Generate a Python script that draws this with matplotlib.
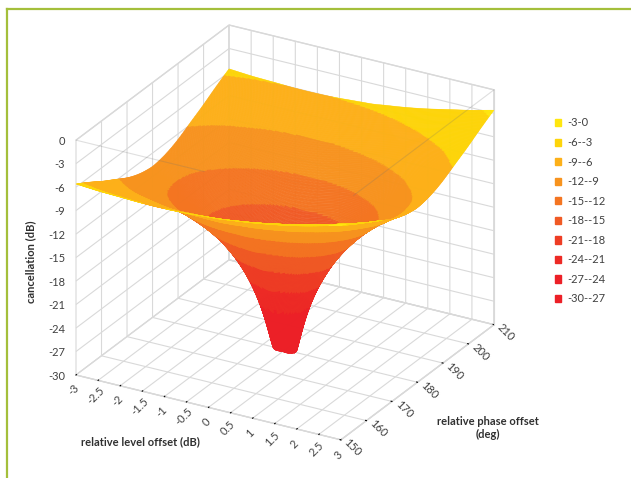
from matplotlib import pyplot as plt
from matplotlib.lines import Line2D
from matplotlib.patches import Patch
from mpl_toolkits.mplot3d import proj3d
import numpy as np

level_offset = [-3, -2.5, -2, -1.5, -1, -0.5, -0.25, 0, 0.25, 0.5, 1, 1.5, 2, 2.5, 3]
phase_offset = [150, 155, 160, 165, 170, 175, 177.5, 180, 182.5, 185, 190, 195, 200, 205, 210]

# one row per level offset, one column per phase offset
cancellation = [
    [-5.6, -6.6, -7.7, -8.7, -9.7, -10.4, -10.6, -10.7, -10.6, -10.4, -9.7, -8.7, -7.7, -6.6, -5.6],
    [-5.8, -6.9, -8.2, -9.5, -10.7, -11.7, -11.9, -12.0, -11.9, -11.7, -10.7, -9.5, -8.2, -6.9, -5.8],
    [-5.9, -7.2, -8.6, -10.2, -11.8, -13.2, -13.6, -13.7, -13.6, -13.2, -11.8, -10.2, -8.6, -7.2, -5.9],
    [-6.0, -7.4, -9.0, -10.8, -13.0, -15.0, -15.7, -16.0, -15.7, -15.0, -13.0, -10.8, -9.0, -7.4, -6.0],
    [-6.0, -7.5, -9.2, -11.4, -14.1, -17.3, -18.7, -19.3, -18.7, -17.3, -14.1, -11.4, -9.2, -7.5, -6.0],
    [-5.9, -7.4, -9.3, -11.7, -15.0, -19.9, -23.1, -25.1, -23.1, -19.9, -15.0, -11.7, -9.3, -7.4, -5.9],
    [-5.8, -7.4, -9.3, -11.7, -15.2, -20.9, -25.8, -30.0, -25.8, -20.9, -15.2, -11.7, -9.3, -7.4, -5.8],
    [-5.7, -7.3, -9.2, -11.7, -15.2, -21.2, -27.2, -30.0, -27.2, -21.2, -15.2, -11.7, -9.2, -7.3, -5.7],
    [-5.6, -7.1, -9.0, -11.5, -14.9, -20.6, -25.5, -30.0, -25.5, -20.6, -14.9, -11.5, -9.0, -7.1, -5.6],
    [-5.4, -7.0, -8.8, -11.2, -14.5, -19.4, -22.6, -24.5, -22.6, -19.4, -14.5, -11.2, -8.8, -7.0, -5.4],
    [-5.0, -6.5, -8.2, -10.4, -13.1, -16.3, -17.7, -18.3, -17.7, -16.3, -13.1, -10.4, -8.2, -6.5, -5.0],
    [-4.5, -5.9, -7.5, -9.3, -11.5, -13.5, -14.2, -14.5, -14.2, -13.5, -11.5, -9.3, -7.5, -5.9, -4.5],
    [-3.9, -5.2, -6.6, -8.2, -9.8, -11.2, -11.6, -11.7, -11.6, -11.2, -9.8, -8.2, -6.6, -5.2, -3.9],
    [-3.3, -4.4, -5.7, -6.9, -8.2, -9.2, -9.4, -9.5, -9.4, -9.2, -8.2, -6.9, -5.7, -4.4, -3.3],
    [-2.6, -3.6, -4.7, -5.7, -6.7, -7.4, -7.6, -7.7, -7.6, -7.4, -6.7, -5.7, -4.7, -3.6, -2.6],
]

level_ticks = [-3, -2.5, -2, -1.5, -1, -0.5, 0, 0.5, 1, 1.5, 2, 2.5, 3]
level_labels = ["-3", "-2.5", "-2", "-1.5", "-1", "-0.5", "0", "0.5", "1", "1.5", "2", "2.5", "3"]
phase_ticks = [150, 160, 170, 180, 190, 200, 210]
db_ticks = [0, -3, -6, -9, -12, -15, -18, -21, -24, -27, -30]

band_edges = [-30, -27, -24, -21, -18, -15, -12, -9, -6, -3, 0]
band_labels = ["-30--27", "-27--24", "-24--21", "-21--18", "-18--15",
               "-15--12", "-12--9", "-9--6", "-6--3", "-3-0"]
band_colors = ["#ec2027", "#ec2027", "#ed2a25", "#ee3d24", "#f05a24",
               "#f47521", "#f7931e", "#fdb019", "#fdd40a", "#ffe60f"]

WIDTH, HEIGHT = 631, 478
GRID = "#d9d9d9"
TEXT = "#404040"
plt.rcParams['font.family'] = ['Lato', 'DejaVu Sans']
plt.rcParams['grid.color'] = GRID
plt.rcParams['grid.linewidth'] = 0.8


def hermite(values, x, x_new):
    # cubic hermite along the first axis, x may be unevenly spaced
    slopes = np.gradient(values, x, axis=0)
    i = np.clip(np.searchsorted(x, x_new) - 1, 0, len(x) - 2)
    h = x[i + 1] - x[i]
    t = (x_new - x[i]) / h
    t = t.reshape((-1,) + (1,) * (values.ndim - 1))
    h = h.reshape(t.shape)
    return ((2*t**3 - 3*t**2 + 1) * values[i] + (t**3 - 2*t**2 + t) * h * slopes[i]
            + (-2*t**3 + 3*t**2) * values[i + 1] + (t**3 - t**2) * h * slopes[i + 1])


def to_px(x, y, z):
    xs, ys, _ = proj3d.proj_transform(x, y, z, ax.get_proj())
    return ax.transData.transform((xs, ys))


def tick_label(x, y, z, s, dx, dy, **kw):
    # Text3D drops the rotation, so tick labels go on the figure next to the projected point
    px, py = to_px(x, y, z)
    fig.text((px + dx) / WIDTH, (py + dy) / HEIGHT, s, fontsize=8, color=TEXT, va='center', **kw)


fig = plt.figure(figsize=(WIDTH / 100, HEIGHT / 100), dpi=100)

ax = fig.add_axes([0, 0, HEIGHT / WIDTH, 1], projection='3d')
ax.set_proj_type('ortho')
ax.view_init(elev=25.4, azim=-60.3)
ax.set_box_aspect((305, 309, 260))
ax.set_xlim(-3, 3, view_margin=0)
ax.set_ylim(150, 210, view_margin=0)
ax.set_zlim(-30, 0, view_margin=0)
ax.computed_zorder = False

# scale and shift the axes so the floor sits where it should in pixels
ax.apply_aspect()
left = to_px(-3, 150, -30)
right = to_px(3, 210, -30)
scale = (494 - 76) / (right[0] - left[0])
size = HEIGHT * scale
x0 = 76 - left[0] * scale
y0 = (HEIGHT - 375) - left[1] * scale
ax.set_position([x0 / WIDTH, y0 / HEIGHT, size / WIDTH, size / HEIGHT])
ax.apply_aspect()

ax.set_xticks(level_ticks)
ax.set_yticks(phase_ticks)
ax.set_zticks(db_ticks)
ax.set_xticklabels([])
ax.set_yticklabels([])
ax.set_zticklabels([])
for axis in (ax.xaxis, ax.yaxis, ax.zaxis):
    axis.set_pane_color((1, 1, 1, 1))
    axis.pane.set_edgecolor(GRID)
    axis.line.set_color(GRID)
    axis.line.set_linewidth(0.8)
    axis._axinfo['tick']['inward_factor'] = 0
    axis._axinfo['tick']['outward_factor'] = 0.04
    axis._axinfo['tick']['color'] = GRID
    axis._axinfo['tick']['linewidth'] = {True: 0.8, False: 0.8}
ax.zaxis._axinfo['tick']['outward_factor'] = 0
ax.patch.set_visible(False)

# resample in power, the dB values are too sharp near the null to interpolate
levels = np.array(level_offset, dtype=float)
phases = np.array(phase_offset, dtype=float)
power = 10 ** (np.array(cancellation) / 10)
L_fine = np.linspace(-3, 3, 281)
P_fine = np.linspace(150, 210, 281)
fine = hermite(power, levels, L_fine)
fine = hermite(fine.T, phases, P_fine).T
Z = 10 * np.log10(np.clip(fine, 0.001, None))

colors = np.array(band_colors)[np.clip(np.digitize(Z, band_edges) - 1, 0, 9)]
face = plt.matplotlib.colors.to_rgba_array(colors.ravel()).reshape(Z.shape + (4,))
X, Y = np.meshgrid(L_fine, P_fine, indexing='ij')
ax.plot_surface(X, Y, Z, facecolors=face, rstride=1, cstride=1, shade=False,
                linewidth=0.3, zorder=2)

# top edges of the box fade out over the surface
ax.plot([-3, -0.1], [150, 150], [0, 0], color="#707070", alpha=0.22, lw=0.8, zorder=3)
ax.plot([3, 3], [155, 210], [0, 0], color="#707070", alpha=0.22, lw=0.8, zorder=3)

for v, s in zip(level_ticks, level_labels):
    tick_label(v, 150, -30, s, -2.5, -15, ha='center', rotation=45)
for v in phase_ticks:
    tick_label(3, v, -30, str(v), 12, -8, ha='center', rotation=-45)
for v in db_ticks:
    tick_label(-3, 150, v, str(v), -11, -1, ha='right')

title_style = dict(fontsize=8, fontweight='bold', color="#303030", ha='center', va='center')
fig.text(31 / WIDTH, 1 - 262 / HEIGHT, "cancellation (dB)", rotation=90, **title_style)
fig.text(140 / WIDTH, 1 - 442 / HEIGHT, "relative level offset (dB)", **title_style)
fig.text(488 / WIDTH, 1 - 428 / HEIGHT, "relative phase offset\n(deg)", **title_style)

handles = [Patch(color=c) for c in band_colors[::-1]]
fig.legend(handles, band_labels[::-1], loc='upper left',
           bbox_to_anchor=(554.5 / WIDTH, 1 - 117.5 / HEIGHT), frameon=False, fontsize=8,
           labelcolor=TEXT, handlelength=0.62, handleheight=0.62, handletextpad=0.55,
           labelspacing=0.77, borderpad=0, borderaxespad=0)

# green frame, open at the right and the bottom
frame = "#a4bf3b"
fig.add_artist(Line2D([7 / WIDTH, 7 / WIDTH], [0, 1 - 9 / HEIGHT], color=frame, lw=1.6))
fig.add_artist(Line2D([7 / WIDTH, 1], [1 - 9 / HEIGHT, 1 - 9 / HEIGHT], color=frame, lw=1.6))

fig.savefig("out.png", dpi=100)
